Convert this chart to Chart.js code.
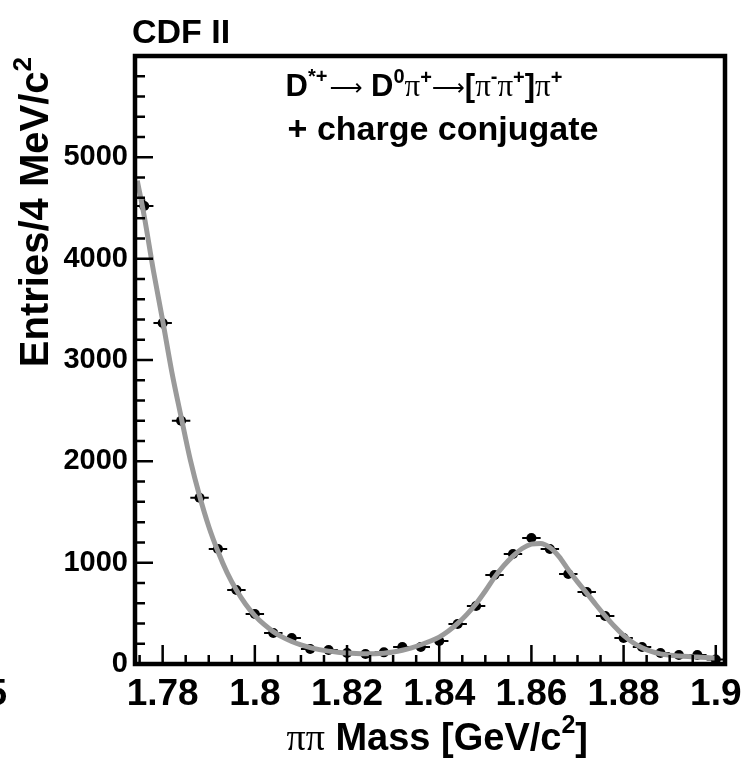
<!DOCTYPE html>
<html><head><meta charset="utf-8">
<script src="https://cdn.jsdelivr.net/npm/chart.js@4.4.1/dist/chart.umd.min.js"></script>
<style>html,body{margin:0;padding:0;background:#fff;overflow:hidden}canvas{display:block}</style>
</head><body>
<canvas id="c" width="744" height="761"></canvas>
<script>
// ---- data ----
const massBins = [1.776,1.780,1.784,1.788,1.792,1.796,1.800,1.804,1.808,1.812,1.816,1.820,1.824,1.828,1.832,1.836,
                  1.840,1.844,1.848,1.852,1.856,1.860,1.864,1.868,1.872,1.876,1.880,1.884,1.888,1.892,1.896,1.900];
const entries = [4520,3365,2400,1640,1135,730,494,306,257,148,138,109,99,115,168,168,
                 227,395,573,879,1086,1244,1135,888,711,474,257,168,109,89,89,45];
const entryErrors = [67,58,49,40,34,27,22,17,16,12,12,10,10,11,13,13,
                     15,20,24,30,33,35,34,30,27,22,16,13,10,9,9,7];
const binHalfWidth = 0.002;
const fitMass = [1.7745,1.776,1.778,1.780,1.782,1.784,1.786,1.788,1.790,1.792,1.794,1.796,1.798,1.800,1.802,1.804,1.806,1.808,
                 1.810,1.812,1.814,1.816,1.818,1.820,1.822,1.824,1.826,1.828,1.830,1.832,1.834,1.836,1.838,1.840,
                 1.842,1.844,1.846,1.848,1.850,1.852,1.854,1.856,1.858,1.860,1.862,1.864,1.866,1.868,1.870,1.872,
                 1.874,1.876,1.878,1.880,1.882,1.884,1.886,1.888,1.890,1.892,1.894,1.896,1.898,1.900];
const fitEntries = [4770,4420,3880,3390,2880,2440,2015,1660,1357,1110,900,730,590,478,390,320,265,222,
                    188,162,142,127,116,108,103,101,102,107,118,136,160,190,224,265,
                    325,400,490,595,720,855,970,1065,1140,1183,1190,1150,1060,930,810,700,
                    585,475,372,282,212,160,124,100,87,79,73,68,63,59];
const xMajorTicks = [1.78,1.80,1.82,1.84,1.86,1.88,1.90];
const xTickLabels = ['1.78','1.8','1.82','1.84','1.86','1.88','1.9'];
const yMajorTicks = [0,1000,2000,3000,4000,5000];
const yTickLabels = ['0','1000','2000','3000','4000','5000'];
const xMinorStep = 0.005, yMinorStep = 200;

const SANS = '"Liberation Sans", Arial, Helvetica, sans-serif';
const SERIF = '"Liberation Serif", "Times New Roman", serif';
const ARROW = '"DejaVu Sans", ' + SERIF;

function drawRich(ctx, segs, x, y, align) {
  let total = 0;
  segs.forEach(s => { ctx.font = s.f; s.w = ctx.measureText(s.t).width; total += s.w + (s.gap || 0); });
  let cx = align === 'center' ? x - total / 2 : align === 'right' ? x - total : x;
  ctx.textAlign = 'left'; ctx.textBaseline = 'alphabetic';
  segs.forEach(s => { ctx.font = s.f; ctx.fillText(s.t, cx + (s.gap||0), y + (s.dy || 0)); cx += s.w + (s.gap || 0); });
}

const errorBars = {
  id: 'errorBars',
  beforeDatasetsDraw(chart) {
    const {ctx, scales: {x, y}} = chart;
    ctx.save(); ctx.strokeStyle = '#000'; ctx.lineWidth = 2;
    massBins.forEach((m, i) => {
      const py = y.getPixelForValue(entries[i]);
      ctx.beginPath();
      ctx.moveTo(x.getPixelForValue(m - binHalfWidth), py);
      ctx.lineTo(x.getPixelForValue(m + binHalfWidth), py);
      ctx.moveTo(x.getPixelForValue(m), y.getPixelForValue(entries[i] - entryErrors[i]));
      ctx.lineTo(x.getPixelForValue(m), y.getPixelForValue(entries[i] + entryErrors[i]));
      ctx.stroke();
    });
    ctx.restore();
  }
};

const frameAndTicks = {
  id: 'frameAndTicks',
  afterDraw(chart) {
    const {ctx, chartArea: a, scales: {x, y}} = chart;
    ctx.save(); ctx.strokeStyle = '#000'; ctx.lineWidth = 2.5;
    ctx.beginPath();
    for (let v = 1.775; v <= x.max + 1e-9; v += xMinorStep) {
      const px = x.getPixelForValue(v);
      const major = xMajorTicks.some(t => Math.abs(t - v) < 1e-6);
      ctx.moveTo(px, a.bottom); ctx.lineTo(px, a.bottom - (major ? 19 : 9));
    }
    for (let v = 0; v < y.max - 1; v += yMinorStep) {
      const py = y.getPixelForValue(v);
      const major = v % 1000 === 0;
      ctx.moveTo(a.left, py); ctx.lineTo(a.left + (major ? 18 : 10), py);
    }
    ctx.stroke();
    ctx.lineWidth = 4.5;
    ctx.strokeRect(a.left, a.top, a.right - a.left, a.bottom - a.top);
    ctx.restore();

    ctx.save(); ctx.fillStyle = '#000';
    ctx.font = 'bold 34px ' + SANS; ctx.textAlign = 'left'; ctx.textBaseline = 'alphabetic';
    ctx.fillText('CDF II', 132, 43);
    const sup = 'bold 20px ' + SANS, big = 'bold 31px ' + SANS, pi = '31px ' + SERIF, arr = '23px ' + ARROW;
    drawRich(ctx, [
      {t:'D', f:big}, {t:'*+', f:sup, dy:-13}, {t:'\u27F6', f:arr, dy:-1, gap:2},
      {t:' D', f:big}, {t:'0', f:sup, dy:-13}, {t:'\u03C0', f:pi}, {t:'+', f:sup, dy:-12},
      {t:'\u27F6', f:arr, dy:-1}, {t:'[', f:big}, {t:'\u03C0', f:pi}, {t:'-', f:sup, dy:-13},
      {t:'\u03C0', f:pi}, {t:'+', f:sup, dy:-12}, {t:']', f:big}, {t:'\u03C0', f:pi}, {t:'+', f:sup, dy:-12}
    ], 424, 96, 'center');
    ctx.font = 'bold 34px ' + SANS; ctx.textAlign = 'center';
    ctx.fillText('+ charge conjugate', 443, 140);
    // x title
    drawRich(ctx, [
      {t:'\u03C0\u03C0', f:'38px ' + SERIF}, {t:' Mass [GeV/c', f:'bold 38px ' + SANS},
      {t:'2', f:'bold 25px ' + SANS, dy:-17}, {t:']', f:'bold 38px ' + SANS}
    ], 588, 750, 'right');
    // y title
    ctx.save(); ctx.translate(48, 57); ctx.rotate(-Math.PI / 2);
    drawRich(ctx, [{t:'Entries/4 MeV/c', f:'bold 40px ' + SANS}, {t:'2', f:'bold 26px ' + SANS, dy:-17}], 0, 0, 'right');
    ctx.restore();
    // clipped label from neighbouring panel
    ctx.font = 'bold 37px ' + SANS; ctx.textAlign = 'right';
    ctx.fillText('5', 7, 705);
    ctx.restore();
  }
};

new Chart(document.getElementById('c'), {
  type: 'scatter',
  data: {
    datasets: [
      { type: 'line', label: 'fit', data: fitMass.map((m, i) => ({x: m, y: fitEntries[i]})),
        borderColor: '#9a9a9a', borderWidth: 5, pointRadius: 0, fill: false,
        cubicInterpolationMode: 'monotone', order: 0 },
      { type: 'scatter', label: 'data', data: massBins.map((m, i) => ({x: m, y: entries[i]})),
        backgroundColor: '#000', borderWidth: 0, pointRadius: 5, order: 1 }
    ]
  },
  options: {
    responsive: false, animation: false, devicePixelRatio: 1,
    layout: { padding: { top: 56, right: 19, left: 0, bottom: 0 } },
    plugins: { legend: { display: false }, tooltip: { enabled: false } },
    scales: {
      x: { type: 'linear', min: 1.774, max: 1.902,
        afterBuildTicks: s => { s.ticks = xMajorTicks.map(v => ({value: v})); },
        afterFit: s => { s.height = 97; s.paddingLeft = 0; s.paddingRight = 0; },
        grid: { display: false, drawTicks: false }, border: { display: false },
        ticks: { autoSkip: false, maxRotation: 0, padding: 9, color: '#000',
          font: { family: SANS, weight: 'bold', size: 37 },
          callback: v => xTickLabels[xMajorTicks.findIndex(t => Math.abs(t - v) < 1e-9)] } },
      y: { type: 'linear', min: 0, max: 6000,
        afterBuildTicks: s => { s.ticks = yMajorTicks.map(v => ({value: v})); },
        afterFit: s => { s.width = 135; s.paddingTop = 0; s.paddingBottom = 0; },
        grid: { display: false, drawTicks: false }, border: { display: false },
        ticks: { padding: 7, color: '#000', font: { family: SANS, weight: 'bold', size: 29 },
          callback: v => yTickLabels[yMajorTicks.indexOf(v)] } }
    }
  },
  plugins: [errorBars, frameAndTicks]
});
</script>
</body></html>
